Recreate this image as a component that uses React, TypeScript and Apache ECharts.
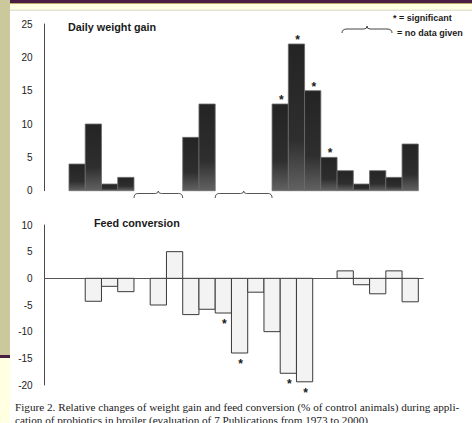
import React, { useEffect, useRef } from "react";
import * as echarts from "echarts";

// ---- data (slot = position of the study along the common x grid) ----
const weightGainSlots = [0, 1, 2, 3, 7, 8, 12.5, 13.5, 14.5, 15.5, 16.5, 17.5, 18.5, 19.5, 20.5];
const weightGainValues = [4, 10, 1, 2, 8, 13, 13, 22, 15, 5, 3, 1, 3, 2, 7];
const weightGainSignificant = [0, 0, 0, 0, 0, 0, 1, 1, 1, 1, 0, 0, 0, 0, 0];
const weightGainNoData = [
  [4, 7],
  [9, 12.5],
];

const feedSlots = [1, 2, 3, 5, 6, 7, 8, 9, 10, 11, 12, 13, 14, 16.5, 17.5, 18.5, 19.5, 20.5];
const feedValues = [-4.3, -1.5, -2.5, -5, 5, -6.8, -5.8, -6.5, -14, -2.6, -10, -17.8, -19.4, 1.4, -1.2, -2.9, 1.4, -4.4];
const feedSignificant = [0, 0, 0, 0, 0, 0, 0, 1, 1, 0, 0, 1, 1, 0, 0, 0, 0, 0];

const weightAxis = { min: 0, max: 25, interval: 5 };
const feedAxis = { min: -20, max: 10, interval: 5 };
const slotRange = { min: -1.5, max: 21.8 };

const titleWeight = "Daily weight gain";
const titleFeed = "Feed conversion";
const legendSig = "* = significant";
const legendNoData = "= no data given";
const caption1 =
  "Figure 2. Relative changes of weight gain and feed conversion (% of control animals) during appli-";
const caption2 = "cation of probiotics in broiler (evaluation of 7 Publications from 1973 to 2000)";

const SANS = "Liberation Sans, Arial, sans-serif";
const SERIF = "Liberation Serif, Times New Roman, serif";

let registered = false;
function registerShapes() {
  if (registered) return;
  registered = true;
  echarts.graphic.registerShape(
    "legendBrace",
    echarts.graphic.extendPath(
      "M0 7 Q0 3 5 3 L22 3 Q25 3 25 0 Q25 3 28 3 L45 3 Q50 3 50 7",
      {}
    ) as any
  );
}

function barItem(dark: boolean) {
  return (params: any, api: any) => {
    const x = api.value(0);
    const v = api.value(1);
    const sig = api.value(2);
    const p0 = api.coord([x, 0]);
    const p1 = api.coord([x + 1, v]);
    const top = Math.min(p0[1], p1[1]);
    const h = Math.abs(p1[1] - p0[1]);
    const children: any[] = [
      {
        type: "rect",
        shape: { x: p0[0], y: top, width: p1[0] - p0[0], height: h },
        style: dark
          ? {
              fill: new echarts.graphic.LinearGradient(0, 0, 0, 1, [
                { offset: 0, color: "#242424" },
                { offset: 0.65, color: "#2e2e2e" },
                { offset: 1, color: "#626262" },
              ]),
              stroke: "#6a6a6a",
              lineWidth: 0.8,
            }
          : { fill: "#f3f3f3", stroke: "#3a3a3a", lineWidth: 1 },
      },
    ];
    if (sig) {
      const cx = (p0[0] + p1[0]) / 2 + 1;
      const cy = v >= 0 ? p1[1] - 4 : p1[1] + 11;
      children.push({
        type: "text",
        x: cx,
        y: cy,
        style: {
          text: "*",
          fill: "#1a1a1a",
          font: "bold 12px " + SANS,
          align: "center",
          verticalAlign: "middle",
        },
      });
    }
    return { type: "group", children };
  };
}

function braceItem(params: any, api: any) {
  const a = api.coord([api.value(0), 0]);
  const b = api.coord([api.value(1), 0]);
  const y = a[1] + 2.8;
  const xa = a[0];
  const xb = b[0];
  const xm = (xa + xb) / 2;
  const d =
    `M${xa} ${y + 4.5} Q${xa} ${y} ${xa + 4} ${y} L${xm - 3} ${y} Q${xm} ${y} ${xm} ${y - 2.5} ` +
    `Q${xm} ${y} ${xm + 3} ${y} L${xb - 4} ${y} Q${xb} ${y} ${xb} ${y + 4.5}`;
  return {
    type: "path",
    shape: { pathData: d },
    style: { stroke: "#555", fill: "none", lineWidth: 1 },
  };
}

export default function App() {
  const ref = useRef<HTMLDivElement>(null);
  useEffect(() => {
    if (!ref.current) return;
    registerShapes();
    const chart = echarts.init(ref.current, null, { renderer: "svg" });

    const yAxisCommon = {
      type: "value",
      axisLine: { show: true, onZero: false, lineStyle: { color: "#4a4a4a", width: 1 } },
      axisTick: { show: false },
      splitLine: { show: false },
      axisLabel: { margin: 12, fontSize: 10, color: "#222", fontFamily: SANS },
    };

    const option: any = {
      animation: false,
      backgroundColor: "#ffffff",
      grid: [
        { left: 44.6, top: 24, width: 378.6, height: 166.7 },
        { left: 44.6, top: 225, width: 378.6, height: 160 },
      ],
      xAxis: [
        { type: "value", gridIndex: 0, min: slotRange.min, max: slotRange.max, show: false },
        {
          type: "value",
          gridIndex: 1,
          min: slotRange.min,
          max: slotRange.max,
          axisLine: { show: true, onZero: true, lineStyle: { color: "#555", width: 1 } },
          axisTick: { show: false },
          axisLabel: { show: false },
          splitLine: { show: false },
        },
      ],
      yAxis: [
        { ...yAxisCommon, gridIndex: 0, ...weightAxis },
        { ...yAxisCommon, gridIndex: 1, ...feedAxis },
      ],
      series: [
        {
          type: "custom",
          xAxisIndex: 0,
          yAxisIndex: 0,
          renderItem: barItem(true),
          data: weightGainSlots.map((s, i) => [s, weightGainValues[i], weightGainSignificant[i]]),
        },
        {
          type: "custom",
          xAxisIndex: 0,
          yAxisIndex: 0,
          renderItem: braceItem,
          data: weightGainNoData.map((r) => [r[0], r[1]]),
        },
        {
          type: "custom",
          xAxisIndex: 1,
          yAxisIndex: 1,
          renderItem: barItem(false),
          data: feedSlots.map((s, i) => [s, feedValues[i], feedSignificant[i]]),
        },
      ],
      graphic: [
        { type: "rect", shape: { x: 0, y: 0, width: 10, height: 355 }, style: { fill: "#cbc99b" } },
        { type: "rect", shape: { x: 0, y: 355, width: 10, height: 3 }, style: { fill: "#4a1e42" } },
        { type: "rect", shape: { x: 0, y: 358, width: 10, height: 65 }, style: { fill: "#ffffe1" } },
        { type: "rect", shape: { x: 10, y: 0, width: 462, height: 3 }, style: { fill: "#4a1e42" } },
        {
          type: "line",
          shape: { x1: 10, y1: 3.5, x2: 472, y2: 3.5 },
          style: { stroke: "#b9aa66", lineWidth: 1 },
        },
        { type: "rect", shape: { x: 10, y: 4, width: 462, height: 6 }, style: { fill: "#ffffe1" } },
        {
          type: "line",
          shape: { x1: 10, y1: 10.2, x2: 472, y2: 10.2 },
          style: { stroke: "#b8b8a8", lineWidth: 0.6 },
        },
        {
          type: "text",
          x: 68,
          y: 27,
          style: { text: titleWeight, font: "bold 10.8px " + SANS, fill: "#1a1a1a", verticalAlign: "middle" },
        },
        {
          type: "text",
          x: 94,
          y: 223,
          style: { text: titleFeed, font: "bold 10.8px " + SANS, fill: "#1a1a1a", verticalAlign: "middle" },
        },
        {
          type: "text",
          x: 393,
          y: 18,
          style: { text: legendSig, font: "bold 9px " + SANS, fill: "#1a1a1a", verticalAlign: "middle" },
        },
        {
          type: "text",
          x: 397,
          y: 33,
          style: { text: legendNoData, font: "bold 9px " + SANS, fill: "#1a1a1a", verticalAlign: "middle" },
        },
        {
          type: "legendBrace",
          x: 342,
          y: 26,
          style: { stroke: "#444", fill: "none", lineWidth: 1 },
        },
        {
          type: "text",
          x: 15,
          y: 407,
          style: { text: caption1, font: "11.2px " + SERIF, fill: "#1a1a1a", verticalAlign: "middle" },
        },
        {
          type: "text",
          x: 15,
          y: 420,
          style: { text: caption2, font: "11.2px " + SERIF, fill: "#1a1a1a", verticalAlign: "middle" },
        },
      ],
    };
    chart.setOption(option);
    return () => chart.dispose();
  }, []);

  return (
    <div
      ref={ref}
      style={{ position: "fixed", left: 0, top: 0, width: 472, height: 423, background: "#fff" }}
    />
  );
}
